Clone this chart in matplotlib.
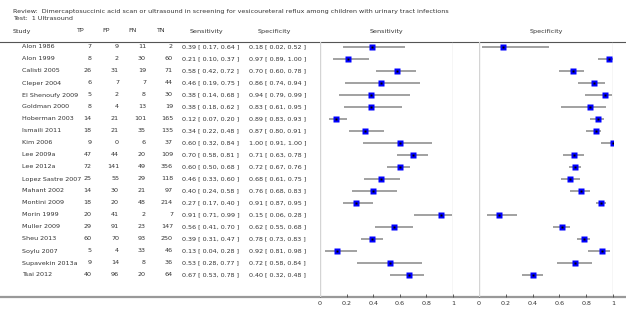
import matplotlib
matplotlib.use("Agg")
import matplotlib.pyplot as plt

studies = ["Alon 1986", "Alon 1999", "Calisti 2005", "Cleper 2004", "El Shenoufy 2009",
           "Goldman 2000", "Hoberman 2003", "Ismaili 2011", "Kim 2006", "Lee 2009a",
           "Lee 2012a", "Lopez Sastre 2007", "Mahant 2002", "Montini 2009", "Morin 1999",
           "Muller 2009", "Sheu 2013", "Soylu 2007", "Supavekin 2013a", "Tsai 2012"]
tp = [7, 8, 26, 6, 5, 8, 14, 18, 9, 47, 72, 25, 14, 18, 20, 29, 60, 5, 9, 40]
fp = [9, 2, 31, 7, 2, 4, 21, 21, 0, 44, 141, 55, 30, 20, 41, 91, 70, 4, 14, 96]
fn = [11, 30, 19, 7, 8, 13, 101, 35, 6, 20, 49, 29, 21, 48, 2, 23, 93, 33, 8, 20]
tn = [2, 60, 71, 44, 30, 19, 165, 135, 37, 109, 356, 118, 97, 214, 7, 147, 250, 46, 36, 64]
sens = [0.39, 0.21, 0.58, 0.46, 0.38, 0.38, 0.12, 0.34, 0.60, 0.70,
        0.60, 0.46, 0.40, 0.27, 0.91, 0.56, 0.39, 0.13, 0.53, 0.67]
sens_lo = [0.17, 0.10, 0.42, 0.19, 0.14, 0.18, 0.07, 0.22, 0.32, 0.58,
           0.50, 0.33, 0.24, 0.17, 0.71, 0.41, 0.31, 0.04, 0.28, 0.53]
sens_hi = [0.64, 0.37, 0.72, 0.75, 0.68, 0.62, 0.20, 0.48, 0.84, 0.81,
           0.68, 0.60, 0.58, 0.40, 0.99, 0.70, 0.47, 0.28, 0.77, 0.78]
spec = [0.18, 0.97, 0.70, 0.86, 0.94, 0.83, 0.89, 0.87, 1.00, 0.71,
        0.72, 0.68, 0.76, 0.91, 0.15, 0.62, 0.78, 0.92, 0.72, 0.40]
spec_lo = [0.02, 0.89, 0.60, 0.74, 0.79, 0.61, 0.83, 0.80, 0.91, 0.63,
           0.67, 0.61, 0.68, 0.87, 0.06, 0.55, 0.73, 0.81, 0.58, 0.32]
spec_hi = [0.52, 1.00, 0.78, 0.94, 0.99, 0.95, 0.93, 0.91, 1.00, 0.78,
           0.76, 0.75, 0.83, 0.95, 0.28, 0.68, 0.83, 0.98, 0.84, 0.48]
ticks = [0, 0.2, 0.4, 0.6, 0.8, 1]
tick_labels = ["0", "0.2", "0.4", "0.6", "0.8", "1"]

W, H = 626, 320
FS = 4.6
TXT = "#333333"

fig = plt.figure(figsize=(W / 100, H / 100), dpi=100)

# plot area in pixels: header line at 42, bottom line at 297
top_px, bot_px = 42, 297
b = 1 - bot_px / H
h = (bot_px - top_px) / H
ylim = (19 + 22 / 12, -5 / 12)

def fx(px):
    return px / W

def fy(py):
    return 1 - py / H

fig.text(fx(13), fy(12), "Review:  Dimercaptosuccinic acid scan or ultrasound in screening for "
         "vesicoureteral reflux among children with urinary tract infections",
         fontsize=FS, color=TXT, va="center")
fig.text(fx(13), fy(18.5), "Test:  1 Ultrasound", fontsize=FS, color=TXT, va="center")

# column headers
hy = fy(31)
fig.text(fx(13), hy, "Study", fontsize=FS, color=TXT, va="center")
for lab, cx in zip(["TP", "FP", "FN", "TN"], [79.5, 106, 133, 160]):
    fig.text(fx(cx), hy, lab, fontsize=FS, color=TXT, va="center", ha="center")
fig.text(fx(206), hy, "Sensitivity", fontsize=FS, color=TXT, va="center", ha="center")
fig.text(fx(274), hy, "Specificity", fontsize=FS, color=TXT, va="center", ha="center")
fig.text(fx(386.5), hy, "Sensitivity", fontsize=FS, color=TXT, va="center", ha="center")
fig.text(fx(546), hy, "Specificity", fontsize=FS, color=TXT, va="center", ha="center")

# table axes (x in pixels)
ax_t = fig.add_axes([0, b, 1, h])
ax_t.set_xlim(0, W)
ax_t.set_ylim(*ylim)
ax_t.axis("off")
ax_t.axhline(ylim[1], color="#555555", lw=0.8, clip_on=False)
ax_t.axhline(ylim[0], color="#999999", lw=1.6, clip_on=False)

for i, name in enumerate(studies):
    ax_t.text(22.5, i, name, fontsize=FS, color=TXT, va="center")
    for val, rx in zip([tp[i], fp[i], fn[i], tn[i]], [91.5, 119, 146, 173]):
        ax_t.text(rx, i, str(val), fontsize=FS, color=TXT, va="center", ha="right")
    ax_t.text(182, i, f"{sens[i]:.2f} [ {sens_lo[i]:.2f}, {sens_hi[i]:.2f} ]",
              fontsize=FS, color=TXT, va="center")
    ax_t.text(249, i, f"{spec[i]:.2f} [ {spec_lo[i]:.2f}, {spec_hi[i]:.2f} ]",
              fontsize=FS, color=TXT, va="center")


def panel(left_px, right_px, est, lo, hi):
    ax = fig.add_axes([fx(left_px), b, (right_px - left_px) / W, h])
    ax.set_xlim(0, 1)
    ax.set_ylim(*ylim)
    ax.patch.set_alpha(0)
    for s in ax.spines.values():
        s.set_visible(False)
    ax.axvline(0, color="#d4d4d4", lw=1)
    ax.axvline(1, color="#d4d4d4", lw=1)
    rows = range(len(est))
    ax.hlines(rows, lo, hi, color="#9a9a9a", lw=1.3)
    ax.plot(est, rows, "s", color="#0000ff", ms=4.4, mec="none")
    ax.plot(est, rows, "s", color="#000000", ms=1.6, mec="none")
    ax.set_yticks([])
    ax.set_xticks(ticks)
    ax.set_xticklabels(tick_labels)
    ax.tick_params(axis="x", direction="in", length=2, width=0.6, color="#444444",
                   labelsize=FS, labelcolor=TXT, pad=3)
    return ax


panel(320, 453, sens, sens_lo, sens_hi)
panel(479, 613, spec, spec_lo, spec_hi)

fig.savefig("out.png", dpi=100)
